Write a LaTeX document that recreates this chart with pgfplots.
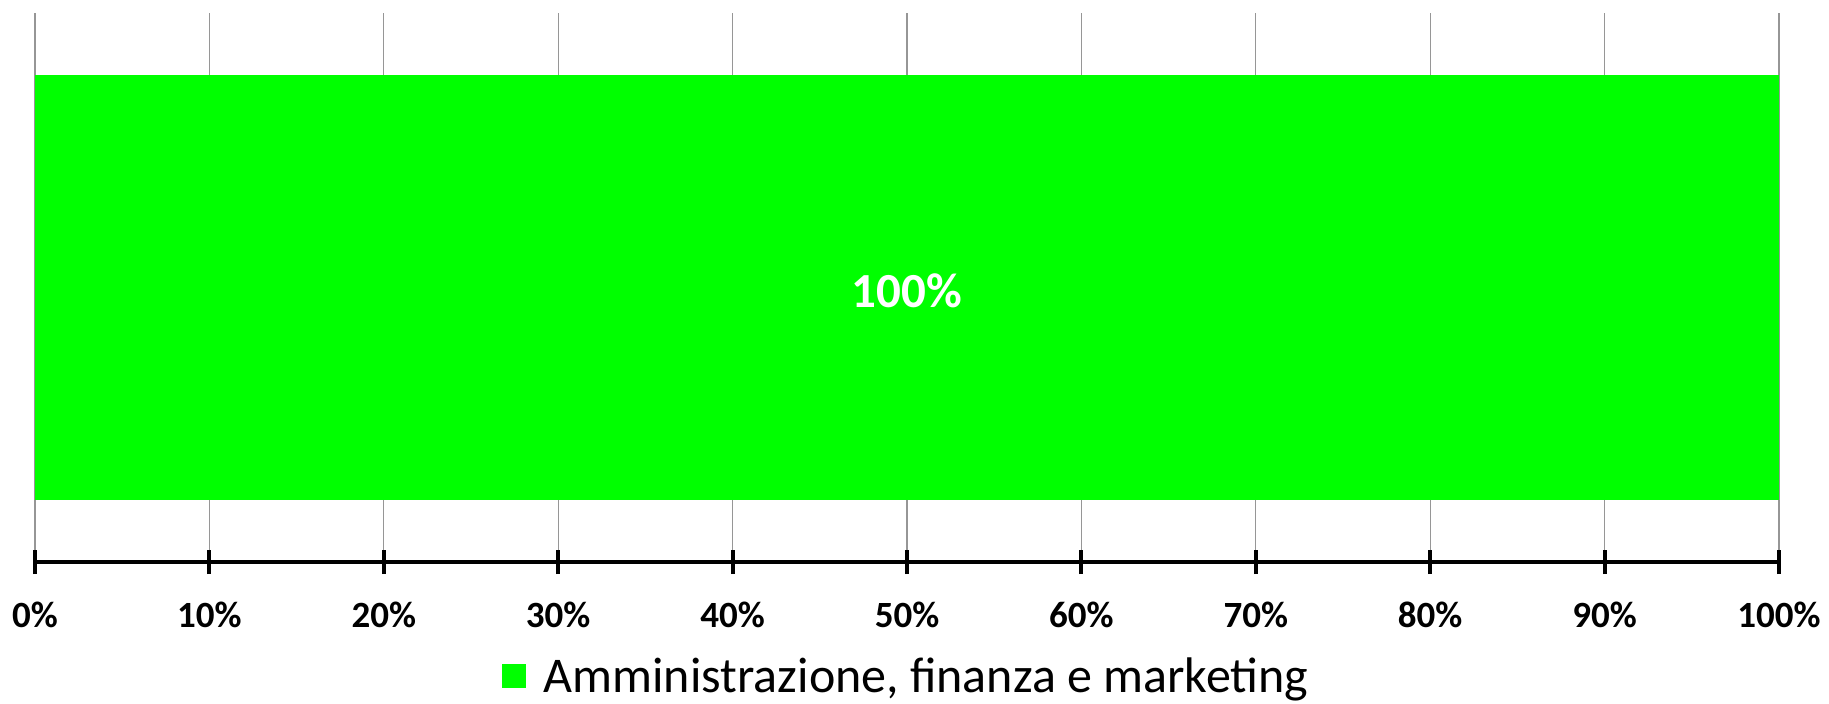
\documentclass[border=0pt]{standalone}
\usepackage{fontspec}
\setmainfont{Carlito}
\usepackage{pgfplots}
\pgfplotsset{compat=1.18}
\definecolor{barg}{RGB}{0,255,0}
\definecolor{gridg}{RGB}{150,150,150}
\begin{document}
\begin{tikzpicture}
\useasboundingbox (-17.5pt,-70.5pt) rectangle (897pt,281pt);
\begin{axis}[
  at={(0,0)}, anchor=south west,
  scale only axis, width=872pt, height=274.5pt,
  xbar, bar width=212pt,
  xmin=0, xmax=100, ymin=-0.5, ymax=0.5,
  axis x line=bottom, axis y line=none,
  x axis line style={line width=2pt, -},
  xtick={0,10,...,100},
  xticklabels={0\%,10\%,20\%,30\%,40\%,50\%,60\%,70\%,80\%,90\%,100\%},
  xticklabel style={font=\fontsize{18.5}{18.5}\selectfont\bfseries, yshift=-10.5pt},
  tick align=center, major tick length=12pt,
  x tick style={line width=2pt, black},
  xmajorgrids, grid style={gridg, line width=0.65pt},
  ytick=\empty,
  legend style={at={(0.5,-0.208)}, anchor=center, draw=none, fill=none,
    font=\fontsize{25}{25}\selectfont, legend cell align=left,
    /tikz/every odd column/.append style={column sep=7pt}},
]
\addplot[fill=barg, draw=none,
  legend image code/.code={\fill[barg] (0pt,-6pt) rectangle (12pt,6pt);}]
  coordinates {(100,0)};
\addlegendentry{Amministrazione, finanza e marketing}
\node[white, font=\fontsize{24.5}{24.5}\selectfont\bfseries, yshift=-1.5pt] at (axis cs:50,0) {100\%};
\end{axis}
\end{tikzpicture}
\end{document}
